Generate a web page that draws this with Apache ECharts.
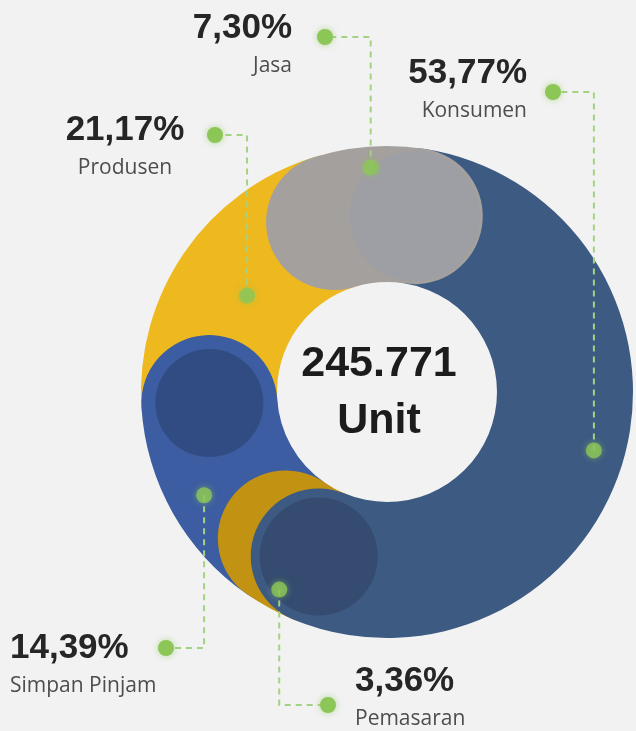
<!DOCTYPE html>
<html><head><meta charset="utf-8">
<script src="https://cdn.jsdelivr.net/npm/echarts@6/dist/echarts.min.js"></script>
<style>html,body{margin:0;padding:0;background:#f2f2f2}#c{width:636px;height:731px}</style>
</head><body><div id="c"></div>
<script>
// ---- data ----
const categories = ['Jasa', 'Konsumen', 'Pemasaran', 'Simpan Pinjam', 'Produsen'];
const shares = [7.30, 53.77, 3.36, 14.39, 21.17];
const shareLabels = ['7,30%', '53,77%', '3,36%', '14,39%', '21,17%'];
const totalUnits = '245.771';
const totalUnitName = 'Unit';

// ---- style / layout ----
const colors = { 'Jasa': '#a4a09e', 'Konsumen': '#3d5a83', 'Pemasaran': '#c29213', 'Simpan Pinjam': '#3c5da1', 'Produsen': '#eeb81f' };
const capColors = { 'Simpan Pinjam': '#2e497a', 'Konsumen': '#33486b', 'Jasa': '#9c9fa6' };
const capSizes = { 'Simpan Pinjam': 108, 'Konsumen': 118, 'Jasa': 130 };
const layerZ = { 'Jasa': 6, 'Konsumen': 5, 'Pemasaran': 4, 'Simpan Pinjam': 3, 'Produsen': 2 };
const CX = 387, CY = 392, R0 = 110, R1 = 246, START = 107.3;
const GREEN = '#8cc657';
const dotR = { 'Jasa': 225, 'Konsumen': 215, 'Pemasaran': 225, 'Simpan Pinjam': 210, 'Produsen': 170 };
const labelPos = {
  'Jasa': { x: 292, y: 8, align: 'right', dot: [325, 37] },
  'Konsumen': { x: 527, y: 53, align: 'right', dot: [553, 92] },
  'Pemasaran': { x: 355, y: 661, align: 'left', dot: [328, 705] },
  'Simpan Pinjam': { x: 10, y: 628, align: 'left', dot: [166, 648] },
  'Produsen': { x: 125, y: 110, align: 'center', dot: [215, 135] }
};

let acc = 0;
const ends = shares.map(v => (acc += v));
const mids = shares.map((v, i) => ends[i] - v / 2);

const chart = echarts.init(document.getElementById('c'), null, { renderer: 'canvas' });

const barSeries = categories.map((name, i) => ({
  type: 'bar', name, coordinateSystem: 'polar', polarIndex: 0, stack: 'ring',
  roundCap: true, barWidth: '100%', z: layerZ[name], silent: true,
  data: [shares[i]], itemStyle: { color: colors[name] }
}));

const capSeries = {
  type: 'scatter', coordinateSystem: 'polar', polarIndex: 0, z: 8, silent: true, symbol: 'circle',
  data: ['Simpan Pinjam', 'Konsumen', 'Jasa'].map(name => {
    const i = categories.indexOf(name);
    return { value: [0, ends[i]], symbolSize: capSizes[name], itemStyle: { color: capColors[name] } };
  })
};

const ringDots = {
  type: 'scatter', coordinateSystem: 'polar', polarIndex: 1, z: 20, silent: true, symbolSize: 16,
  data: categories.map((name, i) => [dotR[name], mids[i]]),
  itemStyle: { color: GREEN, shadowBlur: 6, shadowColor: 'rgba(140,198,87,0.7)' }
};

function richFor(align) {
  return {
    p: { fontSize: 35, fontWeight: 'bold', fontFamily: 'Liberation Sans', color: '#262626', lineHeight: 40, align },
    n: { fontSize: 21, fontFamily: 'Open Sans', color: '#4d4d4d', lineHeight: 36, align }
  };
}

const labelPie = {
  type: 'pie', center: [CX, CY], radius: [0, 60], startAngle: START, clockwise: true,
  z: 15, silent: true, avoidLabelOverlap: false,
  itemStyle: { color: 'rgba(0,0,0,0)' },
  data: categories.map((name, i) => ({
    name, value: shares[i],
    label: { align: labelPos[name].align, rich: richFor(labelPos[name].align) }
  })),
  label: {
    show: true, position: 'outside',
    formatter: p => '{p|' + shareLabels[p.dataIndex] + '}\n{n|' + p.name + '}'
  },
  labelLine: { show: true, smooth: false, lineStyle: { color: '#a3d283', width: 2, type: [6, 5] } },
  labelLayout: function (params) {
    const i = params.dataIndex;
    const name = categories[i];
    const L = labelPos[name];
    let ux, uy;
    const pts = params.labelLinePoints;
    if (pts && pts[0]) {
      const dx = pts[0][0] - CX, dy = pts[0][1] - CY, len = Math.hypot(dx, dy) || 1;
      ux = dx / len; uy = dy / len;
    } else {
      const a = (START - mids[i] * 3.6) * Math.PI / 180;
      ux = Math.cos(a); uy = -Math.sin(a);
    }
    const ax = CX + ux * dotR[name], ay = CY + uy * dotR[name];
    const endX = L.dot[0] + (ax > L.dot[0] ? 8 : -8);
    return {
      x: L.x, y: L.y, align: L.align, verticalAlign: 'top',
      labelLinePoints: [[ax, ay], [ax, L.dot[1]], [endX, L.dot[1]]]
    };
  }
};

const option = {
  backgroundColor: '#f2f2f2',
  animation: false,
  polar: [
    { center: [CX, CY], radius: [R0, R1] },
    { center: [CX, CY], radius: [0, R1] }
  ],
  angleAxis: [
    { polarIndex: 0, type: 'value', min: 0, max: 100, startAngle: START, clockwise: true, show: false },
    { polarIndex: 1, type: 'value', min: 0, max: 100, startAngle: START, clockwise: true, show: false }
  ],
  radiusAxis: [
    { polarIndex: 0, type: 'category', data: ['ring'], show: false },
    { polarIndex: 1, type: 'value', min: 0, max: R1, show: false }
  ],
  series: [...barSeries, capSeries, labelPie, ringDots],
  graphic: [
    ...categories.map(name => ({
      type: 'circle', silent: true, z: 30,
      shape: { cx: labelPos[name].dot[0], cy: labelPos[name].dot[1], r: 8 },
      style: { fill: GREEN, shadowBlur: 6, shadowColor: 'rgba(140,198,87,0.6)' }
    })),
    { type: 'text', x: 379, y: 364, z: 30, silent: true,
      style: { text: totalUnits, fontSize: 43, fontWeight: 'bold', fontFamily: 'Liberation Sans', fill: '#1c1c1c', align: 'center', verticalAlign: 'middle' } },
    { type: 'text', x: 379, y: 421, z: 30, silent: true,
      style: { text: totalUnitName, fontSize: 43, fontWeight: 'bold', fontFamily: 'Liberation Sans', fill: '#1c1c1c', align: 'center', verticalAlign: 'middle' } }
  ]
};
chart.setOption(option);
</script></body></html>
